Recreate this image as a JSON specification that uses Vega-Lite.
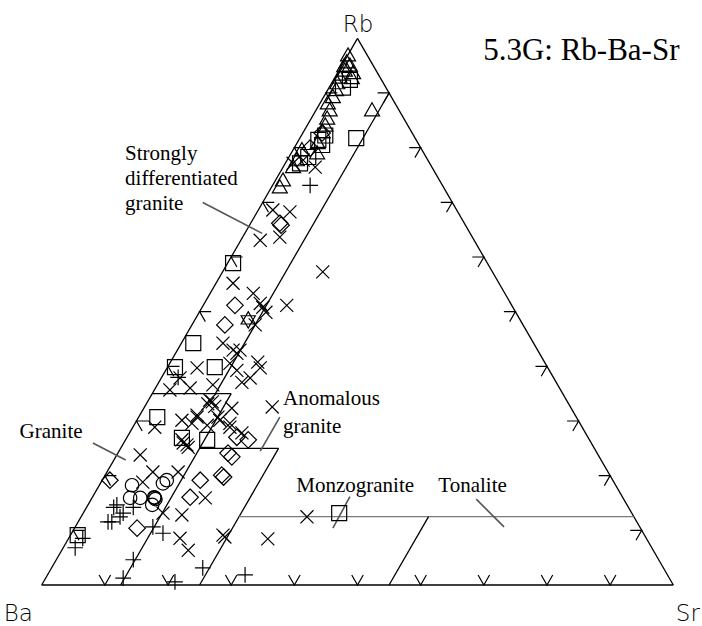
{
  "$schema": "https://vega.github.io/schema/vega-lite/v6.json",
  "width": 631.6,
  "height": 546.7,
  "autosize": "none",
  "padding": {"left": 41.7, "top": 38.3, "right": 28.7, "bottom": 41},
  "background": "white",
  "config": {"view": {"stroke": null}},
  "resolve": {"scale": {"shape": "independent", "color": "independent", "strokeWidth": "independent"}},
  "datasets": {
    "segments": [
      {"kind": "edge", "x": 0, "y": 0, "x2": 100, "y2": 0},
      {"kind": "edge", "x": 100, "y": 0, "x2": 50, "y2": 86.6},
      {"kind": "edge", "x": 50, "y": 86.6, "x2": 0, "y2": 0},
      {"kind": "edge", "x": 55, "y": 77.94, "x2": 27.5, "y2": 30.31},
      {"kind": "edge", "x": 17.5, "y": 30.31, "x2": 30, "y2": 30.31},
      {"kind": "edge", "x": 12.5, "y": 0, "x2": 30, "y2": 30.31},
      {"kind": "edge", "x": 25, "y": 21.65, "x2": 37.5, "y2": 21.65},
      {"kind": "edge", "x": 25, "y": 0, "x2": 37.5, "y2": 21.65},
      {"kind": "sub", "x": 31.25, "y": 10.83, "x2": 93.75, "y2": 10.83},
      {"kind": "edge", "x": 55, "y": 0, "x2": 61.25, "y2": 10.83},
      {"kind": "leader", "x": 25.5, "y": 60.6, "x2": 34.9, "y2": 55.7},
      {"kind": "leader", "x": 8.1, "y": 22.5, "x2": 13.3, "y2": 19.8},
      {"kind": "leader", "x": 37.7, "y": 26.6, "x2": 34.6, "y2": 21.2},
      {"kind": "leader", "x": 48.8, "y": 14.0, "x2": 46.1, "y2": 9.0},
      {"kind": "leader", "x": 68.8, "y": 13.6, "x2": 73.2, "y2": 9.2}
    ],
    "ticks": [
      {"edge": "bottom", "x": 10, "y": 0}, {"edge": "bottom", "x": 20, "y": 0}, {"edge": "bottom", "x": 30, "y": 0},
      {"edge": "bottom", "x": 40, "y": 0}, {"edge": "bottom", "x": 50, "y": 0}, {"edge": "bottom", "x": 60, "y": 0},
      {"edge": "bottom", "x": 70, "y": 0}, {"edge": "bottom", "x": 80, "y": 0}, {"edge": "bottom", "x": 90, "y": 0},
      {"edge": "right", "x": 95, "y": 8.66}, {"edge": "right", "x": 90, "y": 17.32}, {"edge": "right", "x": 85, "y": 25.98},
      {"edge": "right", "x": 80, "y": 34.64}, {"edge": "right", "x": 75, "y": 43.3}, {"edge": "right", "x": 70, "y": 51.96},
      {"edge": "right", "x": 65, "y": 60.62}, {"edge": "right", "x": 60, "y": 69.28}, {"edge": "right", "x": 55, "y": 77.94},
      {"edge": "left", "x": 5, "y": 8.66}, {"edge": "left", "x": 10, "y": 17.32}, {"edge": "left", "x": 15, "y": 25.98},
      {"edge": "left", "x": 20, "y": 34.64}, {"edge": "left", "x": 25, "y": 43.3}, {"edge": "left", "x": 30, "y": 51.96},
      {"edge": "left", "x": 35, "y": 60.62}, {"edge": "left", "x": 40, "y": 69.28}, {"edge": "left", "x": 45, "y": 77.94}
    ],
    "points": [
      {"type": "triangle", "x": 48.5, "y": 83.9}, {"type": "triangle", "x": 48.3, "y": 82.8}, {"type": "triangle", "x": 48.8, "y": 82.3},
      {"type": "triangle", "x": 48.0, "y": 81.5}, {"type": "triangle", "x": 49.3, "y": 81.1}, {"type": "triangle", "x": 47.2, "y": 80.4},
      {"type": "triangle", "x": 49.1, "y": 80.3}, {"type": "triangle", "x": 46.8, "y": 79.5}, {"type": "triangle", "x": 46.1, "y": 77.3},
      {"type": "triangle", "x": 45.3, "y": 76.3}, {"type": "triangle", "x": 45.6, "y": 75.2}, {"type": "triangle", "x": 44.9, "y": 72.8},
      {"type": "triangle", "x": 44.5, "y": 71.7}, {"type": "triangle", "x": 43.7, "y": 70.0}, {"type": "triangle", "x": 43.6, "y": 68.4},
      {"type": "triangle", "x": 41.2, "y": 68.9}, {"type": "triangle", "x": 40.4, "y": 67.3}, {"type": "triangle", "x": 39.8, "y": 66.2},
      {"type": "triangle", "x": 38.2, "y": 64.1}, {"type": "triangle", "x": 37.7, "y": 63.0}, {"type": "triangle", "x": 52.3, "y": 75.2},
      {"type": "triangle", "x": 47.9, "y": 82.2}, {"type": "triangle", "x": 46.6, "y": 78.4}, {"type": "triangle", "x": 45.2, "y": 73.9},
      {"type": "square", "x": 48.8, "y": 80.0}, {"type": "square", "x": 47.7, "y": 78.8}, {"type": "square", "x": 44.9, "y": 71.2},
      {"type": "square", "x": 44.4, "y": 69.7}, {"type": "square", "x": 42.2, "y": 67.8}, {"type": "square", "x": 40.9, "y": 66.8},
      {"type": "square", "x": 43.8, "y": 70.5},
      {"type": "square", "x": 49.8, "y": 70.8}, {"type": "square", "x": 30.3, "y": 51.0}, {"type": "square", "x": 24.0, "y": 38.3},
      {"type": "square", "x": 21.1, "y": 34.5}, {"type": "square", "x": 27.4, "y": 34.5}, {"type": "square", "x": 18.3, "y": 26.6},
      {"type": "square", "x": 22.2, "y": 23.3}, {"type": "square", "x": 26.2, "y": 23.0}, {"type": "square", "x": 5.7, "y": 7.9},
      {"type": "square", "x": 47.1, "y": 11.4},
      {"type": "diamond", "x": 44.4, "y": 71.6}, {"type": "diamond", "x": 42.5, "y": 69.2}, {"type": "diamond", "x": 37.7, "y": 57.3},
      {"type": "diamond", "x": 37.9, "y": 57.0}, {"type": "diamond", "x": 30.6, "y": 44.3}, {"type": "diamond", "x": 29.0, "y": 41.2},
      {"type": "diamond", "x": 30.9, "y": 23.4}, {"type": "diamond", "x": 32.7, "y": 23.0}, {"type": "diamond", "x": 29.5, "y": 20.9},
      {"type": "diamond", "x": 30.1, "y": 20.3}, {"type": "diamond", "x": 28.5, "y": 17.4}, {"type": "diamond", "x": 28.8, "y": 17.1},
      {"type": "diamond", "x": 25.1, "y": 16.6}, {"type": "diamond", "x": 23.5, "y": 13.9}, {"type": "diamond", "x": 10.8, "y": 16.6},
      {"type": "diamond", "x": 15.1, "y": 9.0},
      {"type": "circle", "x": 14.3, "y": 15.8}, {"type": "circle", "x": 14.0, "y": 13.8}, {"type": "circle", "x": 15.6, "y": 13.8},
      {"type": "circle", "x": 19.8, "y": 16.6}, {"type": "circle", "x": 17.9, "y": 13.8}, {"type": "circle", "x": 18.0, "y": 13.6},
      {"type": "circle", "x": 17.8, "y": 13.9}, {"type": "circle", "x": 17.5, "y": 12.7}, {"type": "circle", "x": 19.2, "y": 16.1},
      {"type": "plus", "x": 11.9, "y": 12.7}, {"type": "plus", "x": 14.5, "y": 12.3}, {"type": "plus", "x": 12.9, "y": 11.4},
      {"type": "plus", "x": 11.1, "y": 10.0}, {"type": "plus", "x": 17.6, "y": 9.2}, {"type": "plus", "x": 19.2, "y": 8.2},
      {"type": "plus", "x": 6.5, "y": 7.4}, {"type": "plus", "x": 5.3, "y": 5.9}, {"type": "plus", "x": 14.5, "y": 4.0},
      {"type": "plus", "x": 12.9, "y": 1.1}, {"type": "plus", "x": 21.1, "y": 0.5}, {"type": "plus", "x": 25.5, "y": 2.7},
      {"type": "plus", "x": 32.2, "y": 1.6}, {"type": "plus", "x": 21.6, "y": 32.9}, {"type": "plus", "x": 42.5, "y": 63.3},
      {"type": "plus", "x": 10.5, "y": 10.0}, {"type": "plus", "x": 12.4, "y": 10.8}, {"type": "plus", "x": 11.4, "y": 12.3},
      {"type": "cross", "x": 16.0, "y": 16.3}, {"type": "cross", "x": 22.2, "y": 11.1}, {"type": "cross", "x": 19.2, "y": 11.4},
      {"type": "cross", "x": 21.9, "y": 7.4}, {"type": "cross", "x": 23.2, "y": 5.5}, {"type": "cross", "x": 25.9, "y": 13.8},
      {"type": "cross", "x": 28.7, "y": 7.9}, {"type": "cross", "x": 17.9, "y": 25.0}, {"type": "cross", "x": 15.6, "y": 20.6},
      {"type": "cross", "x": 17.6, "y": 17.9}, {"type": "cross", "x": 21.6, "y": 17.9}, {"type": "cross", "x": 22.4, "y": 22.5},
      {"type": "cross", "x": 23.2, "y": 21.8}, {"type": "cross", "x": 22.2, "y": 26.1}, {"type": "cross", "x": 24.6, "y": 26.9},
      {"type": "cross", "x": 28.2, "y": 26.1}, {"type": "cross", "x": 29.8, "y": 25.0},
      {"type": "cross", "x": 35.0, "y": 44.0}, {"type": "cross", "x": 38.8, "y": 44.3}, {"type": "cross", "x": 28.7, "y": 38.3},
      {"type": "cross", "x": 30.9, "y": 36.7}, {"type": "cross", "x": 29.8, "y": 35.1}, {"type": "cross", "x": 34.2, "y": 35.3},
      {"type": "cross", "x": 34.6, "y": 34.4}, {"type": "cross", "x": 24.6, "y": 34.4}, {"type": "cross", "x": 33.0, "y": 32.8},
      {"type": "cross", "x": 30.9, "y": 34.0}, {"type": "cross", "x": 27.1, "y": 31.7}, {"type": "cross", "x": 23.5, "y": 31.2},
      {"type": "cross", "x": 20.3, "y": 30.9}, {"type": "cross", "x": 26.6, "y": 29.3}, {"type": "cross", "x": 30.1, "y": 28.0},
      {"type": "cross", "x": 27.9, "y": 26.6}, {"type": "cross", "x": 24.6, "y": 26.6}, {"type": "cross", "x": 23.8, "y": 25.6},
      {"type": "cross", "x": 26.2, "y": 25.3}, {"type": "cross", "x": 36.5, "y": 28.2}, {"type": "cross", "x": 22.2, "y": 23.0},
      {"type": "cross", "x": 31.7, "y": 24.1}, {"type": "cross", "x": 34.6, "y": 54.6}, {"type": "cross", "x": 37.7, "y": 55.1},
      {"type": "cross", "x": 39.3, "y": 59.1}, {"type": "cross", "x": 36.6, "y": 59.4}, {"type": "cross", "x": 44.5, "y": 49.6},
      {"type": "cross", "x": 30.3, "y": 47.8}, {"type": "cross", "x": 33.5, "y": 46.2}, {"type": "cross", "x": 42.0, "y": 10.8},
      {"type": "cross", "x": 35.8, "y": 7.3}, {"type": "cross", "x": 29.0, "y": 7.6}, {"type": "cross", "x": 39.8, "y": 66.8},
      {"type": "cross", "x": 41.4, "y": 67.3}, {"type": "cross", "x": 43.3, "y": 66.2},
      {"type": "cross", "x": 34.6, "y": 44.6}, {"type": "cross", "x": 35.5, "y": 43.2}, {"type": "cross", "x": 33.8, "y": 41.2},
      {"type": "cross", "x": 30.3, "y": 37.2}, {"type": "cross", "x": 31.4, "y": 37.2}, {"type": "cross", "x": 31.7, "y": 32.1},
      {"type": "cross", "x": 21.9, "y": 32.8}, {"type": "cross", "x": 27.0, "y": 29.0}, {"type": "cross", "x": 27.4, "y": 28.3},
      {"type": "cross", "x": 26.3, "y": 28.7}, {"type": "cross", "x": 29.8, "y": 25.6}, {"type": "cross", "x": 23.0, "y": 22.2},
      {"type": "star", "x": 32.7, "y": 42.0}
    ],
    "labels": [
      {"text": "Strongly", "x": 13.2, "y": 67.3},
      {"text": "differentiated", "x": 13.2, "y": 63.3},
      {"text": "granite", "x": 13.2, "y": 59.4},
      {"text": "Granite", "x": -3.5, "y": 23.3},
      {"text": "Anomalous", "x": 38.2, "y": 28.5},
      {"text": "granite", "x": 38.2, "y": 24.1},
      {"text": "Monzogranite", "x": 40.3, "y": 14.7},
      {"text": "Tonalite", "x": 62.8, "y": 14.7}
    ],
    "titles": [
      {"text": "5.3G: Rb-Ba-Sr", "x": 69.9, "y": 83.1}
    ],
    "apices": [
      {"text": "Rb", "x": 50.1, "y": 87.6},
      {"text": "Ba", "x": -3.7, "y": -5.7},
      {"text": "Sr", "x": 102.3, "y": -5.7}
    ]
  },
  "layer": [
    {
      "data": {"name": "segments"},
      "mark": {"type": "rule"},
      "encoding": {
        "x": {"field": "x", "type": "quantitative", "scale": {"domain": [0, 100], "nice": false, "zero": false}, "axis": null},
        "y": {"field": "y", "type": "quantitative", "scale": {"domain": [0, 86.6], "nice": false, "zero": false}, "axis": null},
        "x2": {"field": "x2"},
        "y2": {"field": "y2"},
        "color": {"field": "kind", "type": "nominal", "scale": {"domain": ["edge", "sub", "leader"], "range": ["#000000", "#7a7a7a", "#555555"]}, "legend": null},
        "strokeWidth": {"field": "kind", "type": "nominal", "scale": {"domain": ["edge", "sub", "leader"], "range": [1.3, 1.6, 0.8]}, "legend": null}
      }
    },
    {
      "data": {"name": "ticks"},
      "mark": {"type": "point", "filled": false, "stroke": "black", "strokeWidth": 1.2, "size": 529, "opacity": 1},
      "encoding": {
        "x": {"field": "x", "type": "quantitative"},
        "y": {"field": "y", "type": "quantitative"},
        "shape": {"field": "edge", "type": "nominal", "legend": null,
          "scale": {"domain": ["bottom", "right", "left"],
                    "range": ["M-0.5,-0.866L0,0L0.5,-0.866", "M-1,0L0,0L-0.5,0.866", "M1,0L0,0L0.5,0.866"]}}
      }
    },
    {
      "data": {"name": "points"},
      "mark": {"type": "point", "filled": false, "stroke": "black", "strokeWidth": 1.2, "size": 225, "opacity": 1},
      "encoding": {
        "x": {"field": "x", "type": "quantitative"},
        "y": {"field": "y", "type": "quantitative"},
        "shape": {"field": "type", "type": "nominal", "legend": null,
          "scale": {"domain": ["square", "circle", "triangle", "plus", "cross", "diamond", "star"],
                    "range": [
                      "M-1,-1L1,-1L1,1L-1,1Z",
                      "M0.9,0A0.9,0.9,0,1,1,-0.9,0A0.9,0.9,0,1,1,0.9,0Z",
                      "M0,-1L1,0.75L-1,0.75Z",
                      "M-1.05,0L1.05,0M0,-1.05L0,1.05",
                      "M-0.87,-0.87L0.87,0.87M-0.87,0.87L0.87,-0.87",
                      "M0,-1.1L1.1,0L0,1.1L-1.1,0Z",
                      "M0,-1.1L0.95,0.55L-0.95,0.55ZM0,1.1L0.95,-0.55L-0.95,-0.55Z"
                    ]}}
      }
    },
    {
      "data": {"name": "labels"},
      "mark": {"type": "text", "align": "left", "baseline": "alphabetic", "font": "Liberation Serif", "fontSize": 21, "color": "black"},
      "encoding": {
        "x": {"field": "x", "type": "quantitative"},
        "y": {"field": "y", "type": "quantitative"},
        "text": {"field": "text"}
      }
    },
    {
      "data": {"name": "titles"},
      "mark": {"type": "text", "align": "left", "baseline": "alphabetic", "font": "Liberation Serif", "fontSize": 31, "color": "black"},
      "encoding": {
        "x": {"field": "x", "type": "quantitative"},
        "y": {"field": "y", "type": "quantitative"},
        "text": {"field": "text"}
      }
    },
    {
      "data": {"name": "apices"},
      "mark": {"type": "text", "align": "center", "baseline": "alphabetic", "font": "DejaVu Sans", "fontWeight": 200, "fontSize": 23, "color": "black"},
      "encoding": {
        "x": {"field": "x", "type": "quantitative"},
        "y": {"field": "y", "type": "quantitative"},
        "text": {"field": "text"}
      }
    }
  ]
}
